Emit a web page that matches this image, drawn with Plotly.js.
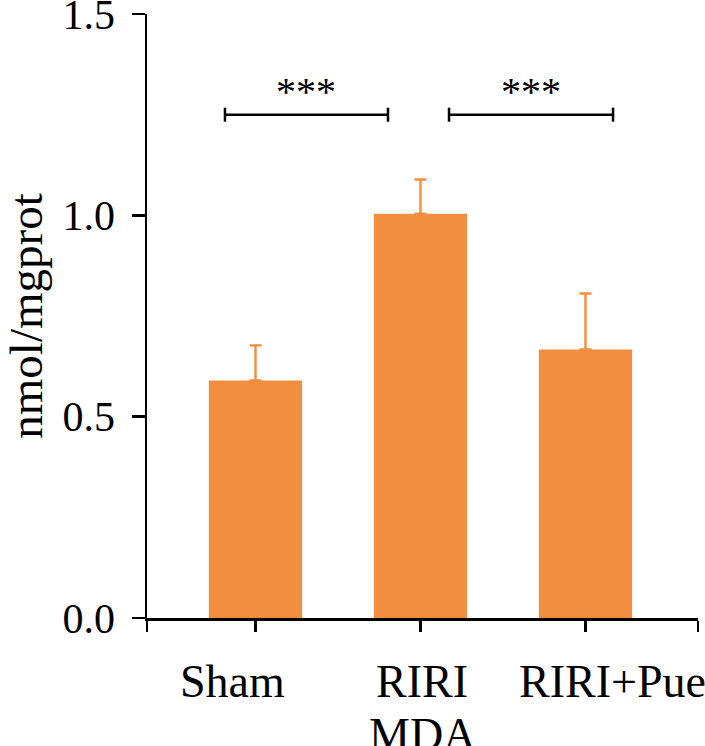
<!DOCTYPE html>
<html>
<head>
<meta charset="utf-8">
<script src="https://cdn.plot.ly/plotly-3.0.1.min.js"></script>
<style>html,body{margin:0;padding:0;background:#fff;}#chart{width:705px;height:746px;}</style>
</head>
<body>
<div id="chart"></div>
<script>
// Data
var categories = ['Sham', 'RIRI', 'RIRI+Pue'];
var positions = [0, 1, 2];
var meanValues = [0.590, 1.004, 0.667];
var errorValues = [0.087, 0.085, 0.139];
var yTickValues = [0, 0.5, 1.0, 1.5];
var yTickLabels = ['0.0', '0.5', '1.0', '1.5'];
var bracketStart = [-0.185, 1.173];
var bracketEnd = [0.803, 2.167];
var bracketY = [1.25, 1.25];
var bracketLabels = ['***', '***'];
var xTitle = 'MDA';
var yTitle = 'nmol/mgprot';

var barColor = '#F38D3F';
var serif = 'Liberation Serif, Times New Roman, serif';
var xMin = -0.6576, xMax = 2.682;
var labelShift = [-23.5, 1.5, 27.5];

var traces = [{
  type: 'bar',
  x: positions,
  y: meanValues,
  width: 0.565,
  marker: {color: barColor, line: {width: 0}},
  error_y: {type: 'data', symmetric: false, array: errorValues, arrayminus: errorValues.map(function(){return 0;}),
            color: barColor, thickness: 2.4, width: 6},
  hoverinfo: 'skip',
  showlegend: false
}];

for (var i = 0; i < bracketStart.length; i++) {
  traces.push({
    type: 'scatter',
    mode: 'lines+markers',
    x: [bracketStart[i], bracketEnd[i]],
    y: [bracketY[i], bracketY[i]],
    line: {color: '#000', width: 2.5},
    marker: {symbol: 'line-ns', size: 10, line: {color: '#000', width: 2.5}},
    hoverinfo: 'skip',
    showlegend: false,
    cliponaxis: false
  });
}

var annotations = [];
for (var j = 0; j < bracketStart.length; j++) {
  annotations.push({
    x: (bracketStart[j] + bracketEnd[j]) / 2,
    y: bracketY[j],
    xref: 'x', yref: 'y',
    text: bracketLabels[j],
    showarrow: false,
    yanchor: 'bottom',
    yshift: -1,
    font: {family: serif, size: 40, color: '#000'}
  });
}
for (var k = 0; k < categories.length; k++) {
  annotations.push({
    x: positions[k], y: 0,
    xref: 'x', yref: 'paper',
    text: categories[k],
    showarrow: false,
    xanchor: 'center', yanchor: 'top',
    xshift: labelShift[k], yshift: -36,
    font: {family: serif, size: 46, color: '#000'}
  });
}
annotations.push({
  x: positions[1], y: 0,
  xref: 'x', yref: 'paper',
  text: xTitle,
  showarrow: false,
  xanchor: 'center', yanchor: 'top',
  xshift: 2, yshift: -89,
  font: {family: serif, size: 46, color: '#000'}
});

var layout = {
  width: 705, height: 746,
  margin: {l: 147, r: 7, t: 14, b: 128, pad: 0},
  paper_bgcolor: '#fff', plot_bgcolor: '#fff',
  font: {family: serif, color: '#000'},
  xaxis: {
    range: [xMin, xMax],
    tickmode: 'array',
    tickvals: [xMin].concat(positions).concat([xMax]),
    ticktext: ['', '', '', '', ''],
    showticklabels: false,
    ticks: 'outside', ticklen: 11, tickwidth: 2.5, tickcolor: '#000',
    showline: true, linecolor: '#000', linewidth: 2.5,
    showgrid: false, zeroline: false,
    automargin: false,
    fixedrange: true
  },
  yaxis: {
    range: [0, 1.5],
    tickmode: 'array',
    tickvals: yTickValues,
    ticktext: yTickLabels,
    ticks: 'outside', ticklen: 13, tickwidth: 2.5, tickcolor: '#000',
    showline: true, linecolor: '#000', linewidth: 2.5,
    showgrid: false, zeroline: false,
    tickfont: {family: serif, size: 42, color: '#000'},
    ticklabelstandoff: 8,
    ticklabeloverflow: 'allow',
    title: {text: yTitle, font: {family: serif, size: 47, color: '#000'}, standoff: 8},
    automargin: false,
    fixedrange: true
  },
  annotations: annotations,
  bargap: 0.4
};

Plotly.newPlot('chart', traces, layout, {staticPlot: true, displayModeBar: false});
</script>
</body>
</html>
